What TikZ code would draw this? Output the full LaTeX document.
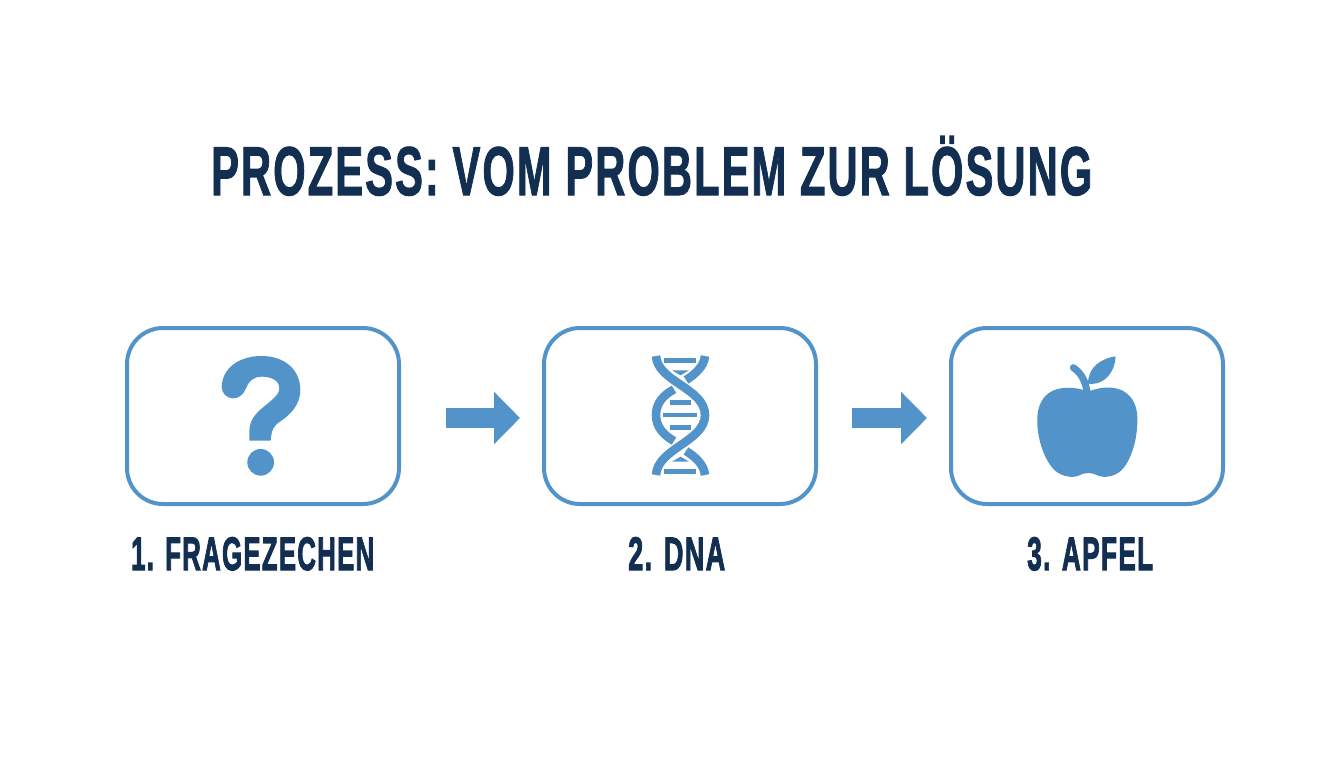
\documentclass[tikz,border=0pt]{standalone}
\usepackage{fontspec}
\setmainfont{Liberation Sans}[BoldFont=* Bold]
\usetikzlibrary{arrows.meta}
\definecolor{navy}{HTML}{122F52}
\definecolor{blu}{HTML}{5294C9}
\newcommand{\fatfit}[2]{\resizebox{#1}{\height}{\addfontfeature{LetterSpace=5}\special{pdf:code 2 Tr 1.2 w}#2\special{pdf:code 0 Tr}}}
\tikzset{
  x=1pt,y=-1pt,
  stepbox/.style={draw=blu,line width=4pt,rounded corners=36pt,minimum width=272pt,minimum height=176pt,inner sep=0pt,fill=white},
  blockarrow/.style={draw=blu,line width=20pt,-{Triangle[length=26pt,width=51pt]}},
  titletext/.style={anchor=base west,inner sep=0pt,text=navy,font=\bfseries\fontsize{69}{69}\selectfont},
  steplabel/.style={anchor=base west,inner sep=0pt,text=navy,font=\bfseries\fontsize{47}{47}\selectfont},
  strand/.style={draw=blu,line width=8.6pt,line cap=butt},
  rung/.style={draw=blu,line width=4.4pt},
  zoomA/.style={shift={(120,320)},x=0.3333pt,y=-0.3333pt},
  zoomB/.style={shift={(620,345)},x=0.3333pt,y=-0.3333pt},
  zoomC/.style={shift={(1020,345)},x=0.3333pt,y=-0.3333pt},
}
\begin{document}
\begin{tikzpicture}
\useasboundingbox[fill=white] (0,0) rectangle (1344,768);
\node[titletext] (title) at (211,195) {\fatfit{881pt}{PROZESS: VOM PROBLEM ZUR LÖSUNG}};
\node[stepbox] (box1) at (263,416) {};
\node[stepbox] (box2) at (680,416) {};
\node[stepbox] (box3) at (1087,416) {};
\node[steplabel] (lab1) at (131,570) {\fatfit{243pt}{1. FRAGEZECHEN}};
\node[steplabel] (lab2) at (628,570) {\fatfit{97pt}{2. DNA}};
\node[steplabel] (lab3) at (1027,570) {\fatfit{126pt}{3. APFEL}};
\draw[blockarrow,shorten <=45pt,shorten >=22pt] ([yshift=-2pt]box1.east) -- ([yshift=-2pt]box2.west);
\draw[blockarrow,shorten <=34pt,shorten >=22pt] ([yshift=-2pt]box2.east) -- ([yshift=-2pt]box3.west);
% question mark
\begin{scope}[zoomA]
\fill[blu] (305,200) .. controls (308,140) and (362,108) .. (425,108)
  .. controls (495,108) and (541,150) .. (541,210)
  .. controls (541,255) and (510,285) .. (480,305)
  .. controls (460,318) and (455,330) .. (452,362)
  -- (388,362) -- (388,335)
  .. controls (388,290) and (420,270) .. (450,245)
  .. controls (470,228) and (478,218) .. (478,205)
  .. controls (478,182) and (455,170) .. (425,170)
  .. controls (400,170) and (385,185) .. (378,205)
  .. controls (370,225) and (355,235) .. (340,235)
  .. controls (320,235) and (305,220) .. (305,200) -- cycle;
\fill[blu] (422,427) circle[radius=40];
\end{scope}
% dna
\begin{scope}[zoomB]
\draw[strand] (108,33) .. controls (112,110) and (255,130) .. (255,210)
  .. controls (255,290) and (112,310) .. (108,390);
\draw[strand] (255,33) .. controls (252,65) and (225,88) .. (198,105);
\draw[strand] (162,133) .. controls (130,150) and (108,175) .. (108,210)
  .. controls (108,245) and (130,270) .. (162,288);
\draw[strand] (198,318) .. controls (225,335) and (252,358) .. (255,390);
\draw[rung] (133,47) -- (228,47);
\fill[blu] (156,76) -- (207,76) -- (182,91) -- cycle;
\draw[rung] (150,173) -- (212,173);
\draw[rung] (130,210) -- (232,210);
\draw[rung] (150,247) -- (212,247);
\fill[blu] (156,350) -- (207,350) -- (182,335) -- cycle;
\draw[rung] (133,379) -- (228,379);
\end{scope}
% apple
\begin{scope}[zoomC]
\fill[blu] (205,140) .. controls (240,125) and (290,120) .. (320,145)
  .. controls (345,165) and (354,195) .. (352,235)
  .. controls (350,295) and (330,350) .. (305,375)
  .. controls (285,396) and (250,400) .. (232,391)
  .. controls (218,382) and (192,382) .. (178,391)
  .. controls (160,400) and (125,396) .. (103,375)
  .. controls (78,350) and (54,295) .. (52,235)
  .. controls (50,195) and (60,165) .. (85,145)
  .. controls (115,122) and (170,125) .. (205,140) -- cycle;
\draw[blu,line width=7pt,line cap=round] (202,145) .. controls (197,110) and (185,85) .. (160,68);
\fill[blu] (204,116) .. controls (204,65) and (245,40) .. (287,34)
  .. controls (285,80) and (255,122) .. (204,116) -- cycle;
\end{scope}
\end{tikzpicture}
\end{document}
